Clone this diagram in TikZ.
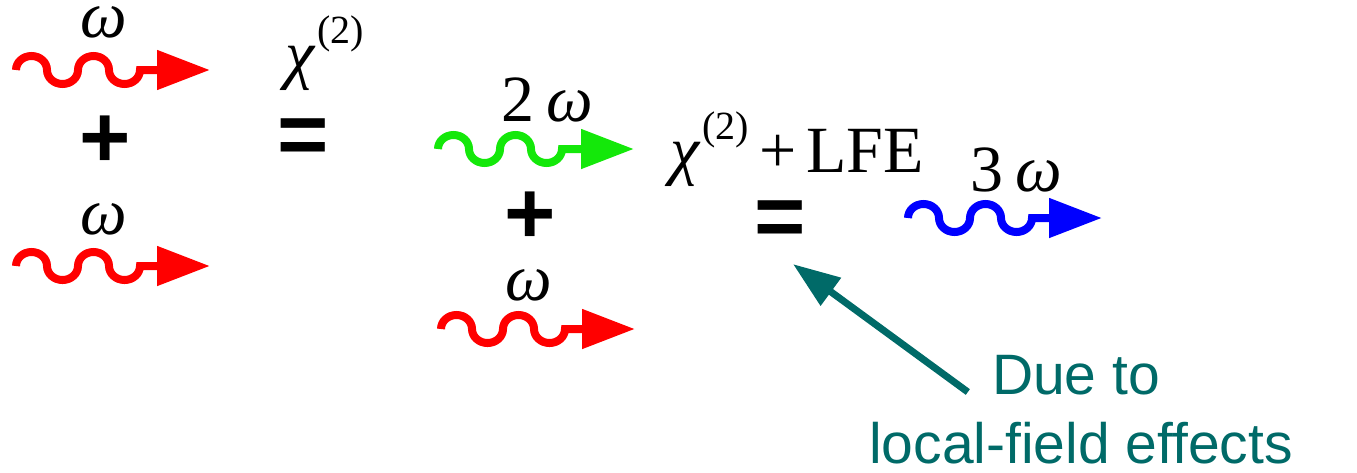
\documentclass[tikz,border=0pt]{standalone}
\usepackage{fontspec}
\setmainfont{Liberation Serif}
\newfontfamily\sansbold{Liberation Sans}[BoldFont={Liberation Sans Bold}]
\newfontfamily\sansfont{Liberation Sans}
\usetikzlibrary{arrows.meta,calc}
\definecolor{tealc}{RGB}{0,106,104}
\definecolor{greenc}{RGB}{20,232,10}
\newcommand\photonwave[3]{% start, tip, colour
  \draw[wave,#3] (#1) arc[start angle=180,end angle=360,x radius=15.5,y radius=14]
    arc[start angle=180,end angle=0,x radius=15.5,y radius=14]
    arc[start angle=180,end angle=360,x radius=15.5,y radius=14]
    arc[start angle=180,end angle=0,x radius=15.5,y radius=14] -- (#2);}
\newcommand\chisym{\fontsize{66}{68}\selectfont\textit{χ}\hspace{2pt}\raisebox{33pt}{\fontsize{40}{42}\selectfont(2)}}
\begin{document}
\begin{tikzpicture}[x=1pt,y=-1pt,
  wave/.style={line width=8pt,-{Triangle[length=53pt,width=38pt]}},
  freq/.style={inner sep=0pt,font=\fontsize{66}{68}\selectfont\itshape},
  opsign/.style={inner sep=0pt,font=\fontsize{88}{90}\selectfont\sansbold\bfseries},
  chilabel/.style={inner sep=0pt,anchor=base west,font=\fontsize{58}{60}\selectfont},
  note/.style={inner sep=0pt,anchor=base,text=tealc,font=\fontsize{57}{60}\selectfont\sansfont}]
\useasboundingbox (0,0) rectangle (1357,472);
% first column
\coordinate (a1) at (16,70);  \coordinate (a1t) at (210,70);
\coordinate (a2) at (16,266); \coordinate (a2t) at (210,266);
\photonwave{a1}{a1t}{red}
\photonwave{a2}{a2t}{red}
\node[freq] (om1) at (104,22) {ω};
\node[freq] (om2) at (104,219) {ω};
\node[opsign] (plus1) at (105,142) {+};
% chi(2)
\node[chilabel] (chi1) at (285,76) {\chisym};
\node[opsign] (eq1) at (303,142) {=};
% second column
\coordinate (g1) at (438,149); \coordinate (g1t) at (634,149);
\coordinate (r3) at (441,329); \coordinate (r3t) at (635,329);
\photonwave{g1}{g1t}{greenc}
\photonwave{r3}{r3t}{red}
\node[freq] (om3) at (547,100) {\upshape 2\hspace{12pt}\itshape ω};
\node[opsign] (plus2) at (530,218) {+};
\node[freq] (om4) at (529,285) {ω};
% chi(2) + LFE
\node[chilabel] (chi2) at (670,172) {\chisym\hspace{10pt}+\hspace{10pt}LFE};
\node[opsign] (eq2) at (780,224) {=};
% third
\coordinate (b1) at (908,218); \coordinate (b1t) at (1102,218);
\photonwave{b1}{b1t}{blue}
\node[freq] (om5) at (1016,170) {\upshape 3\hspace{12pt}\itshape ω};
% note
\node[note] (due) at (1076,394) {Due to};
\node[note] (lfe) at (1081,463) {local-field effects};
\draw[tealc,line width=7pt,-{Triangle[length=47pt,width=33pt]}]
  ($(due.base west)+(-24,-2)$) -- ($(eq2.south)+(13,17)$);
\end{tikzpicture}
\end{document}
